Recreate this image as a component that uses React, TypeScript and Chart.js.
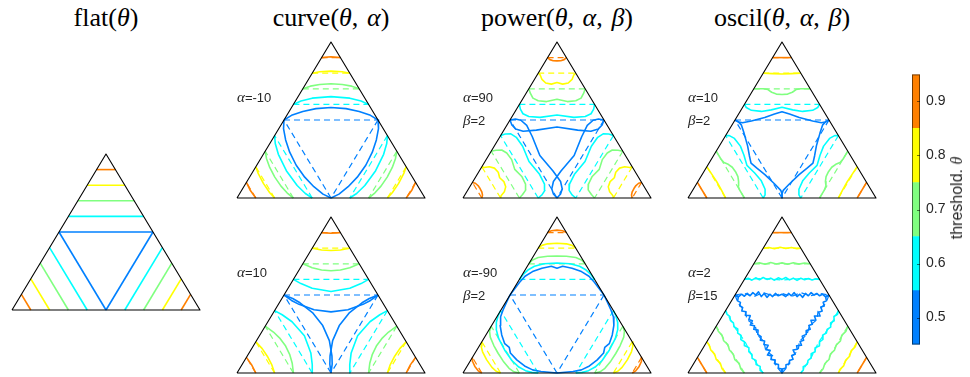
import React, { useEffect, useRef } from "react";
import { Chart, registerables } from "chart.js";
Chart.register(...registerables);

type Pt = [number, number];
type Curve = Pt[];

// threshold levels and their colours (blue -> orange)
const LEVELS = [0.5, 0.6, 0.7, 0.8, 0.9];
const LEVEL_COLORS = ["#0080ff", "#00ffff", "#80ff80", "#ffff00", "#ff8000"];
const COLORBAR_EDGES = [0.45, 0.55, 0.65, 0.75, 0.85, 0.95];
const COLORBAR_TICKS = [0.5, 0.6, 0.7, 0.8, 0.9];

// simplex outline: (u, v) with v = share of the top corner
const TRIANGLE: Curve = [[0, 0], [1, 0], [0.5, 1], [0, 0]];

// Contours for the TOP corner, one per level (blue, cyan, green, yellow, orange).
// The two lower corners are the same contours in permuted barycentric coordinates.
const FLAT: Curve[] = [
  [[0.25, 0.5], [0.75, 0.5]],
  [[0.3, 0.6], [0.7, 0.6]],
  [[0.35, 0.7], [0.65, 0.7]],
  [[0.4, 0.8], [0.6, 0.8]],
  [[0.45, 0.9], [0.55, 0.9]],
];

const CURVE_NEG: Curve[] = [
  [[0.25, 0.5], [0.29, 0.53], [0.35, 0.555], [0.42, 0.573], [0.5, 0.58], [0.58, 0.573], [0.65, 0.555], [0.71, 0.53], [0.75, 0.5]],
  [[0.3, 0.6], [0.34, 0.622], [0.4, 0.64], [0.5, 0.65], [0.6, 0.64], [0.66, 0.622], [0.7, 0.6]],
  [[0.35, 0.7], [0.39, 0.717], [0.44, 0.728], [0.5, 0.732], [0.56, 0.728], [0.61, 0.717], [0.65, 0.7]],
  [[0.4, 0.8], [0.44, 0.809], [0.5, 0.813], [0.56, 0.809], [0.6, 0.8]],
  [[0.45, 0.9], [0.5, 0.905], [0.55, 0.9]],
];

const CURVE_POS: Curve[] = [
  [[0.25, 0.5], [0.29, 0.465], [0.33, 0.44], [0.41, 0.405], [0.5, 0.392], [0.59, 0.405], [0.67, 0.44], [0.71, 0.465], [0.75, 0.5]],
  [[0.3, 0.6], [0.34, 0.573], [0.4, 0.543], [0.5, 0.522], [0.6, 0.543], [0.66, 0.573], [0.7, 0.6]],
  [[0.35, 0.7], [0.4, 0.675], [0.45, 0.66], [0.5, 0.655], [0.55, 0.66], [0.6, 0.675], [0.65, 0.7]],
  [[0.4, 0.8], [0.45, 0.788], [0.5, 0.785], [0.55, 0.788], [0.6, 0.8]],
  [[0.45, 0.9], [0.5, 0.896], [0.55, 0.9]],
];

const POWER_POS: Curve[] = [
  [[0.25, 0.5], [0.26, 0.468], [0.28, 0.443], [0.32, 0.428], [0.39, 0.435], [0.5, 0.455], [0.61, 0.435], [0.68, 0.428], [0.72, 0.443], [0.74, 0.468], [0.75, 0.5]],
  [[0.3, 0.6], [0.305, 0.57], [0.319, 0.54], [0.35, 0.522], [0.41, 0.517], [0.5, 0.532], [0.59, 0.517], [0.65, 0.522], [0.681, 0.54], [0.695, 0.57], [0.7, 0.6]],
  [[0.35, 0.7], [0.358, 0.672], [0.372, 0.64], [0.4, 0.623], [0.445, 0.618], [0.5, 0.633], [0.555, 0.618], [0.6, 0.623], [0.628, 0.64], [0.642, 0.672], [0.65, 0.7]],
  [[0.4, 0.8], [0.41, 0.79], [0.42, 0.76], [0.44, 0.737], [0.47, 0.73], [0.5, 0.74], [0.53, 0.73], [0.56, 0.737], [0.58, 0.76], [0.59, 0.79], [0.6, 0.8]],
  [[0.45, 0.9], [0.462, 0.887], [0.48, 0.88], [0.5, 0.879], [0.52, 0.88], [0.538, 0.887], [0.55, 0.9]],
];

const POWER_NEG: Curve[] = [
  [[0.25, 0.5], [0.275, 0.54], [0.3, 0.58], [0.33, 0.62], [0.37, 0.65], [0.42, 0.672], [0.47, 0.684], [0.5, 0.672], [0.53, 0.684], [0.58, 0.672], [0.63, 0.65], [0.67, 0.62], [0.7, 0.58], [0.725, 0.54], [0.75, 0.5]],
  [[0.3, 0.6], [0.32, 0.632], [0.345, 0.66], [0.38, 0.684], [0.43, 0.7], [0.5, 0.705], [0.57, 0.7], [0.62, 0.684], [0.655, 0.66], [0.68, 0.632], [0.7, 0.6]],
  [[0.35, 0.7], [0.37, 0.725], [0.4, 0.74], [0.45, 0.748], [0.5, 0.75], [0.55, 0.748], [0.6, 0.74], [0.63, 0.725], [0.65, 0.7]],
  [[0.4, 0.8], [0.42, 0.818], [0.45, 0.828], [0.5, 0.832], [0.55, 0.828], [0.58, 0.818], [0.6, 0.8]],
  [[0.45, 0.9], [0.47, 0.912], [0.5, 0.916], [0.53, 0.912], [0.55, 0.9]],
];

const OSCIL_A: Curve[] = [
  [[0.25, 0.5], [0.27, 0.487], [0.29, 0.482], [0.337, 0.494], [0.408, 0.516], [0.46, 0.538], [0.5, 0.553], [0.54, 0.538], [0.592, 0.516], [0.663, 0.494], [0.71, 0.482], [0.73, 0.487], [0.75, 0.5]],
  [[0.3, 0.6], [0.31, 0.58], [0.337, 0.562], [0.39, 0.555], [0.443, 0.565], [0.5, 0.582], [0.557, 0.565], [0.61, 0.555], [0.663, 0.562], [0.69, 0.58], [0.7, 0.6]],
  [[0.35, 0.7], [0.4, 0.7], [0.425, 0.695], [0.445, 0.678], [0.47, 0.666], [0.5, 0.663], [0.53, 0.666], [0.555, 0.678], [0.575, 0.695], [0.6, 0.7], [0.65, 0.7]],
  [[0.4, 0.8], [0.45, 0.797], [0.5, 0.795], [0.55, 0.797], [0.6, 0.8]],
  [[0.45, 0.9], [0.55, 0.9]],
];

const OSCIL_B: Curve[] = [
  [[0.25, 0.5], [0.27, 0.49], [0.285, 0.505], [0.3, 0.492], [0.315, 0.51], [0.33, 0.495], [0.345, 0.515], [0.36, 0.5], [0.375, 0.52], [0.39, 0.49], [0.405, 0.51], [0.42, 0.485], [0.435, 0.505], [0.45, 0.49], [0.465, 0.51], [0.48, 0.495], [0.5, 0.505], [0.52, 0.49], [0.535, 0.51], [0.55, 0.495], [0.565, 0.515], [0.58, 0.49], [0.595, 0.505], [0.61, 0.485], [0.625, 0.51], [0.64, 0.495], [0.655, 0.515], [0.67, 0.5], [0.685, 0.51], [0.7, 0.495], [0.715, 0.505], [0.73, 0.49], [0.75, 0.5]],
  [[0.3, 0.6], [0.32, 0.607], [0.34, 0.595], [0.36, 0.61], [0.38, 0.598], [0.4, 0.612], [0.42, 0.6], [0.44, 0.608], [0.46, 0.595], [0.48, 0.61], [0.5, 0.6], [0.52, 0.612], [0.54, 0.597], [0.56, 0.608], [0.58, 0.594], [0.6, 0.607], [0.62, 0.598], [0.64, 0.606], [0.66, 0.596], [0.68, 0.604], [0.7, 0.6]],
  [[0.35, 0.7], [0.38, 0.706], [0.41, 0.697], [0.44, 0.708], [0.47, 0.699], [0.5, 0.706], [0.53, 0.697], [0.56, 0.707], [0.59, 0.698], [0.62, 0.705], [0.65, 0.7]],
  [[0.4, 0.8], [0.43, 0.805], [0.46, 0.797], [0.49, 0.806], [0.52, 0.798], [0.55, 0.805], [0.58, 0.797], [0.6, 0.8]],
  [[0.45, 0.9], [0.55, 0.9]],
];

const OSCIL_B_DASHED: Curve[] = [
  [[0.25, 0.5], [0.3, 0.51], [0.35, 0.49], [0.4, 0.515], [0.45, 0.495], [0.5, 0.51], [0.55, 0.49], [0.6, 0.515], [0.65, 0.495], [0.7, 0.51], [0.75, 0.5]],
  [[0.3, 0.6], [0.4, 0.606], [0.5, 0.596], [0.6, 0.606], [0.7, 0.6]],
  [[0.35, 0.7], [0.65, 0.7]],
  [[0.4, 0.8], [0.6, 0.8]],
  [[0.45, 0.9], [0.55, 0.9]],
];

const TITLE_NAMES = ["flat", "curve", "power", "oscil"];
const TITLE_ARGS = [["θ"], ["θ", "α"], ["θ", "α", "β"], ["θ", "α", "β"]];

// ---- layout ----
const W = 188;
const H = 156;
const PAD = 4;
const COL_LEFT = [12, 237, 463, 688];

type PanelSpec = { left: number; top: number; solid: Curve[]; dashed: Curve[] | null; params: [string, string][] };
const PANELS: PanelSpec[] = [
  { left: COL_LEFT[0], top: 154, solid: FLAT, dashed: null, params: [] },
  { left: COL_LEFT[1], top: 42, solid: CURVE_NEG, dashed: FLAT, params: [["α", "=-10"]] },
  { left: COL_LEFT[1], top: 217, solid: CURVE_POS, dashed: FLAT, params: [["α", "=10"]] },
  { left: COL_LEFT[2], top: 42, solid: POWER_POS, dashed: FLAT, params: [["α", "=90"], ["β", "=2"]] },
  { left: COL_LEFT[2], top: 217, solid: POWER_NEG, dashed: FLAT, params: [["α", "=-90"], ["β", "=2"]] },
  { left: COL_LEFT[3], top: 42, solid: OSCIL_A, dashed: FLAT, params: [["α", "=10"], ["β", "=2"]] },
  { left: COL_LEFT[3], top: 217, solid: OSCIL_B, dashed: OSCIL_B_DASHED, params: [["α", "=2"], ["β", "=15"]] },
];

// permute barycentric coordinates so the top-corner contour moves to the lower corners
function rotLeft(p: Pt): Pt {
  const a = p[1];
  const c = p[0] - a / 2;
  const b = 1 - a - c;
  return [b + c / 2, c];
}
function rotRight(p: Pt): Pt {
  const a = p[1];
  const c = p[0] - a / 2;
  const b = 1 - a - c;
  return [a + b / 2, b];
}
const toXY = (p: Pt) => ({ x: p[0], y: p[1] });

function TriPanel({ spec }: { spec: PanelSpec }) {
  const ref = useRef<HTMLCanvasElement>(null);
  useEffect(() => {
    const datasets: any[] = [];
    datasets.push({ data: TRIANGLE.map(toXY), borderColor: "#000000", borderWidth: 1.1 });
    const add = (curves: Curve[], dash: boolean) => {
      curves.forEach((c, i) => {
        [c, c.map(rotLeft), c.map(rotRight)].forEach((cc) => {
          datasets.push({
            data: cc.map(toXY),
            borderColor: LEVEL_COLORS[i],
            borderWidth: dash ? 1.2 : 1.6,
            borderDash: dash ? [6, 4] : [],
          });
        });
      });
    };
    add(spec.solid, false);
    if (spec.dashed) add(spec.dashed, true);
    datasets.forEach((d) =>
      Object.assign(d, { showLine: true, pointRadius: 0, fill: false, clip: false, tension: 0, borderJoinStyle: "round" })
    );
    const chart = new Chart(ref.current as HTMLCanvasElement, {
      type: "scatter",
      data: { datasets },
      options: {
        responsive: false,
        maintainAspectRatio: false,
        animation: false,
        layout: { padding: PAD },
        plugins: { legend: { display: false }, tooltip: { enabled: false } },
        scales: {
          x: { type: "linear", min: 0, max: 1, display: false },
          y: { type: "linear", min: 0, max: 1, display: false },
        },
        elements: { point: { radius: 0 } },
      },
    });
    return () => chart.destroy();
  }, [spec]);
  return (
    <canvas
      ref={ref}
      width={W + 2 * PAD}
      height={H + 2 * PAD}
      style={{ position: "absolute", left: spec.left - PAD, top: spec.top - PAD, width: W + 2 * PAD, height: H + 2 * PAD }}
    />
  );
}

const cbFrame = {
  id: "cbFrame",
  afterDatasetsDraw(chart: any) {
    const { ctx, chartArea: a } = chart;
    const y = chart.scales.y;
    ctx.save();
    ctx.strokeStyle = "rgba(0,0,0,0.55)";
    ctx.lineWidth = 1;
    ctx.strokeRect(a.left + 0.5, a.top + 0.5, a.right - a.left - 1, a.bottom - a.top - 1);
    COLORBAR_TICKS.forEach((t) => {
      const py = Math.round(y.getPixelForValue(t)) + 0.5;
      ctx.beginPath();
      ctx.moveTo(a.right - 3, py);
      ctx.lineTo(a.right, py);
      ctx.stroke();
    });
    ctx.restore();
  },
};

function ColorBar() {
  const ref = useRef<HTMLCanvasElement>(null);
  const CW = 48;
  const CH = 299;
  useEffect(() => {
    const datasets = LEVELS.map((_, i) => ({
      data: [[COLORBAR_EDGES[i], COLORBAR_EDGES[i + 1]]],
      backgroundColor: LEVEL_COLORS[i],
      borderWidth: 0,
      barPercentage: 1,
      categoryPercentage: 1,
    }));
    const chart = new Chart(ref.current as HTMLCanvasElement, {
      type: "bar",
      data: { labels: [""], datasets: datasets as any },
      options: {
        responsive: false,
        maintainAspectRatio: false,
        animation: false,
        layout: { padding: { top: 8, bottom: 8, left: 0, right: 0 } },
        plugins: { legend: { display: false }, tooltip: { enabled: false } },
        scales: {
          x: { display: false, stacked: true },
          y: {
            position: "right",
            min: COLORBAR_EDGES[0],
            max: COLORBAR_EDGES[COLORBAR_EDGES.length - 1],
            grid: { display: false, drawTicks: false },
            border: { display: false },
            afterBuildTicks: (s: any) => {
              s.ticks = COLORBAR_TICKS.map((v) => ({ value: v }));
            },
            afterFit: (s: any) => {
              s.width = CW - 8;
            },
            ticks: {
              padding: 6,
              color: "#262626",
              font: { family: "'Liberation Sans', Arial, sans-serif", size: 14 },
              callback: (v: any) => Number(v).toFixed(1),
            },
          },
        },
      },
      plugins: [cbFrame],
    });
    return () => chart.destroy();
  }, []);
  return (
    <canvas
      ref={ref}
      width={CW}
      height={CH}
      style={{ position: "absolute", left: 912, top: 60, width: CW, height: CH }}
    />
  );
}

const serif = "'Liberation Serif', 'Times New Roman', serif";
const sans = "'Liberation Sans', Arial, sans-serif";

function Title({ i }: { i: number }) {
  const cx = COL_LEFT[i] + W / 2;
  const args = TITLE_ARGS[i];
  return (
    <div
      style={{
        position: "absolute",
        left: cx,
        top: 18,
        transform: "translate(-50%, -50%)",
        fontFamily: serif,
        fontSize: 26,
        color: "#000",
        whiteSpace: "nowrap",
        lineHeight: 1,
      }}
    >
      {TITLE_NAMES[i]}(
      {args.map((a, k) => (
        <React.Fragment key={k}>
          <i>{a}</i>
          {k < args.length - 1 ? ",\u200A " : ""}
        </React.Fragment>
      ))}
      )
    </div>
  );
}

export default function App() {
  return (
    <div style={{ position: "fixed", left: 0, top: 0, width: 970, height: 377, background: "#fff", overflow: "hidden" }}>
      {TITLE_NAMES.map((_, i) => (
        <Title key={i} i={i} />
      ))}
      {PANELS.map((p, i) => (
        <TriPanel key={i} spec={p} />
      ))}
      {PANELS.map((p, i) =>
        p.params.map((pr, k) => (
          <div
            key={`${i}-${k}`}
            style={{
              position: "absolute",
              left: p.left,
              top: p.top + 55 + k * 22.5,
              transform: "translateY(-50%)",
              fontFamily: sans,
              fontSize: 13,
              color: "#262626",
              whiteSpace: "nowrap",
              lineHeight: 1,
            }}
          >
            <span style={{ fontFamily: serif, fontStyle: "italic", fontSize: 15 }}>{pr[0]}</span>
            {pr[1]}
          </div>
        ))
      )}
      <ColorBar />
      <div
        style={{
          position: "absolute",
          left: 957,
          top: 198,
          transform: "translate(-50%, -50%) rotate(-90deg)",
          fontFamily: sans,
          fontSize: 16,
          color: "#262626",
          whiteSpace: "nowrap",
          lineHeight: 1,
        }}
      >
        threshold. <span style={{ fontFamily: serif, fontStyle: "italic" }}>θ</span>
      </div>
    </div>
  );
}
